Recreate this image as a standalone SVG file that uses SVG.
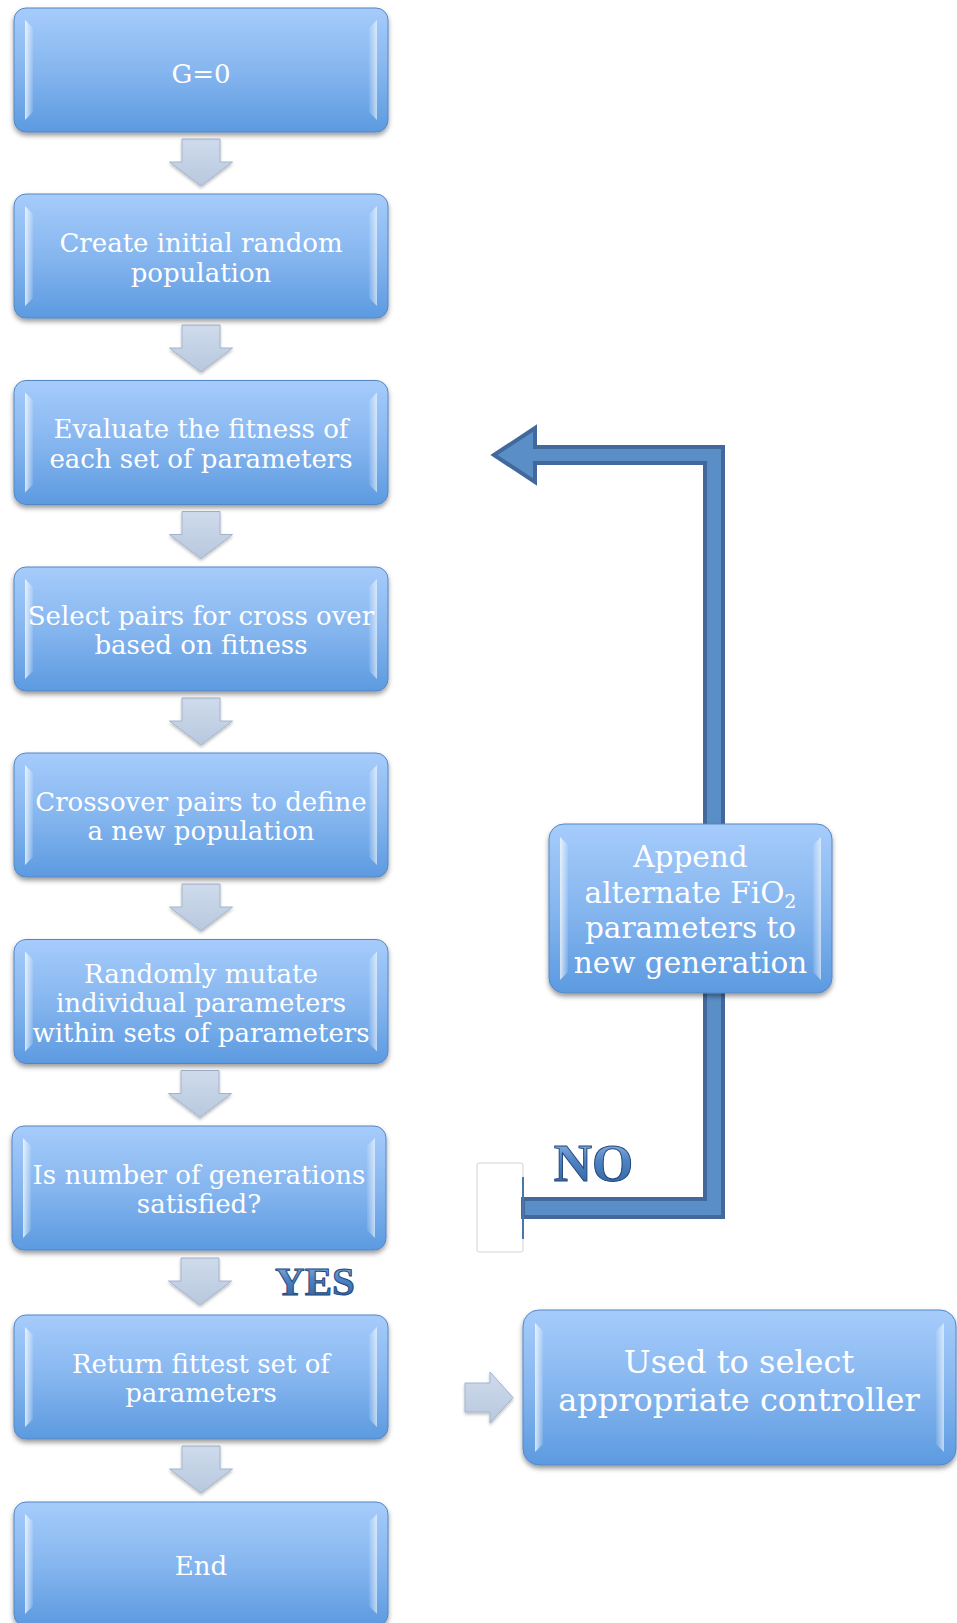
<svg xmlns="http://www.w3.org/2000/svg" width="957" height="1623" viewBox="0 0 957 1623">
<defs>
<linearGradient id="gBox" x1="0" y1="0" x2="0" y2="1">
<stop offset="0" stop-color="#a6ccfb"/>
<stop offset="0.5" stop-color="#86b6ef"/>
<stop offset="1" stop-color="#5c9ae0"/>
</linearGradient>
<linearGradient id="gBevL" x1="0" y1="0" x2="1" y2="0">
<stop offset="0" stop-color="#ffffff" stop-opacity="0.75"/>
<stop offset="1" stop-color="#ffffff" stop-opacity="0.1"/>
</linearGradient>
<linearGradient id="gBevR" x1="1" y1="0" x2="0" y2="0">
<stop offset="0" stop-color="#ffffff" stop-opacity="0.6"/>
<stop offset="1" stop-color="#ffffff" stop-opacity="0.08"/>
</linearGradient>
<linearGradient id="gArrow" x1="0" y1="0" x2="0" y2="1">
<stop offset="0" stop-color="#cfdbec"/>
<stop offset="1" stop-color="#b8c8de"/>
</linearGradient>
<linearGradient id="gWord" x1="0" y1="0" x2="0" y2="1">
<stop offset="0" stop-color="#a3c4ec"/>
<stop offset="0.45" stop-color="#4f84c4"/>
<stop offset="1" stop-color="#2c5c98"/>
</linearGradient>
<filter id="shadow" x="-10%" y="-10%" width="120%" height="130%">
<feDropShadow dx="0" dy="3" stdDeviation="2.5" flood-color="#000" flood-opacity="0.4"/>
</filter>
<filter id="shadowS" x="-20%" y="-20%" width="140%" height="140%">
<feDropShadow dx="0" dy="2" stdDeviation="1.5" flood-color="#000" flood-opacity="0.25"/>
</filter>
<path id="down" d="M-19,0 H19 V23 H31.5 L0,47 L-31.5,23 H-19 Z"/>
</defs>
<style>
.box{fill:url(#gBox);stroke:#5586c4;stroke-width:1;filter:url(#shadow)}
.bl{fill:url(#gBevL)}
.br{fill:url(#gBevR)}
.t{font-family:"DejaVu Serif",serif;font-size:26px;fill:#ffffff;text-anchor:middle}
.t2{font-family:"DejaVu Serif",serif;font-size:29.5px;fill:#ffffff;text-anchor:middle}
.t3{font-family:"DejaVu Serif",serif;font-size:32px;fill:#ffffff;text-anchor:middle}
.arr{fill:url(#gArrow);stroke:#a2b4cc;stroke-width:1;filter:url(#shadowS)}
.word{font-family:"Liberation Serif",serif;font-weight:bold;fill:url(#gWord);stroke:#23477a;stroke-width:1}
.loop{fill:#5a8ec6;stroke:#43699c;stroke-width:4;stroke-linejoin:miter}
</style>

<g id="connectors">
<use href="#down" class="arr" x="201" y="139"/>
<use href="#down" class="arr" x="201" y="325"/>
<use href="#down" class="arr" x="201" y="511.5"/>
<use href="#down" class="arr" x="201" y="698"/>
<use href="#down" class="arr" x="201" y="884"/>
<use href="#down" class="arr" x="200" y="1070.5"/>
<use href="#down" class="arr" x="200" y="1258"/>
<use href="#down" class="arr" x="201" y="1446"/>
<path class="arr" d="M465,1383 H490 V1372 L513,1397.5 L490,1423 V1412 H465 Z"/>
<rect x="477" y="1163" width="46" height="89" rx="2" fill="#ffffff" stroke="#d0d4da" stroke-width="1"/>
<path class="loop" d="M494,455 L535,428 V447 H723 V1217 H523 V1199 H705 V463 H535 V482 Z"/>
<line x1="523" y1="1177" x2="523" y2="1239" stroke="#4a76a8" stroke-width="2"/>
<text class="word" x="593.5" y="1181" font-size="53" text-anchor="middle">NO</text>
<text class="word" x="315" y="1295" font-size="41" text-anchor="middle">YES</text>
</g>

<g id="n1">
<rect class="box" x="14" y="8" width="374" height="124" rx="12"/>
<polygon class="bl" points="25,20 33,28 33,112 25,120"/>
<polygon class="br" points="377,20 369,28 369,112 377,120"/>
<text class="t" x="201" y="82.5">G=0</text>
</g>
<g id="n2">
<rect class="box" x="14" y="194" width="374" height="124" rx="12"/>
<polygon class="bl" points="25,206 33,214 33,298 25,306"/>
<polygon class="br" points="377,206 369,214 369,298 377,306"/>
<text class="t" x="201" y="252">Create initial random</text>
<text class="t" x="201" y="281.5">population</text>
</g>
<g id="n3">
<rect class="box" x="14" y="380.5" width="374" height="124" rx="12"/>
<polygon class="bl" points="25,392.5 33,400.5 33,484.5 25,492.5"/>
<polygon class="br" points="377,392.5 369,400.5 369,484.5 377,492.5"/>
<text class="t" x="201" y="438.3">Evaluate the fitness of</text>
<text class="t" x="201" y="467.8">each set of parameters</text>
</g>
<g id="n4">
<rect class="box" x="14" y="567" width="374" height="124" rx="12"/>
<polygon class="bl" points="25,579 33,587 33,671 25,679"/>
<polygon class="br" points="377,579 369,587 369,671 377,679"/>
<text class="t" x="201" y="624.8">Select pairs for cross over</text>
<text class="t" x="201" y="654.3">based on fitness</text>
</g>
<g id="n5">
<rect class="box" x="14" y="753" width="374" height="124" rx="12"/>
<polygon class="bl" points="25,765 33,773 33,857 25,865"/>
<polygon class="br" points="377,765 369,773 369,857 377,865"/>
<text class="t" x="201" y="810.8">Crossover pairs to define</text>
<text class="t" x="201" y="840.3">a new population</text>
</g>
<g id="n6">
<rect class="box" x="14" y="939.5" width="374" height="124" rx="12"/>
<polygon class="bl" points="25,951.5 33,959.5 33,1043.5 25,1051.5"/>
<polygon class="br" points="377,951.5 369,959.5 369,1043.5 377,1051.5"/>
<text class="t" x="201" y="982.5">Randomly mutate</text>
<text class="t" x="201" y="1012">individual parameters</text>
<text class="t" x="201" y="1041.5">within sets of parameters</text>
</g>
<g id="n7">
<rect class="box" x="12" y="1126" width="374" height="124" rx="12"/>
<polygon class="bl" points="23,1138 31,1146 31,1230 23,1238"/>
<polygon class="br" points="375,1138 367,1146 367,1230 375,1238"/>
<text class="t" x="199" y="1183.8">Is number of generations</text>
<text class="t" x="199" y="1213.3">satisfied?</text>
</g>
<g id="n8">
<rect class="box" x="14" y="1315" width="374" height="124" rx="12"/>
<polygon class="bl" points="25,1327 33,1335 33,1419 25,1427"/>
<polygon class="br" points="377,1327 369,1335 369,1419 377,1427"/>
<text class="t" x="201" y="1372.8">Return fittest set of</text>
<text class="t" x="201" y="1402.3">parameters</text>
</g>
<g id="n9">
<rect class="box" x="14" y="1502" width="374" height="124" rx="12"/>
<polygon class="bl" points="25,1514 33,1522 33,1606 25,1614"/>
<polygon class="br" points="377,1514 369,1522 369,1606 377,1614"/>
<text class="t" x="201" y="1575">End</text>
</g>
<g id="n10">
<rect class="box" x="549" y="824" width="283" height="169" rx="15"/>
<polygon class="bl" points="560,837 568,845 568,972 560,980"/>
<polygon class="br" points="821,837 813,845 813,972 821,980"/>
<text class="t2" x="690.5" y="867">Append</text>
<text class="t2" x="690.5" y="902.5">alternate FiO<tspan font-size="19" dy="5">2</tspan></text>
<text class="t2" x="690.5" y="938">parameters to</text>
<text class="t2" x="690.5" y="973">new generation</text>
</g>
<g id="n11">
<rect class="box" x="523" y="1310" width="433" height="155" rx="16"/>
<polygon class="bl" points="535,1323 543,1331 543,1444 535,1452"/>
<polygon class="br" points="944,1323 936,1331 936,1444 944,1452"/>
<text class="t3" x="739" y="1373">Used to select</text>
<text class="t3" x="739" y="1411">appropriate controller</text>
</g>
</svg>
